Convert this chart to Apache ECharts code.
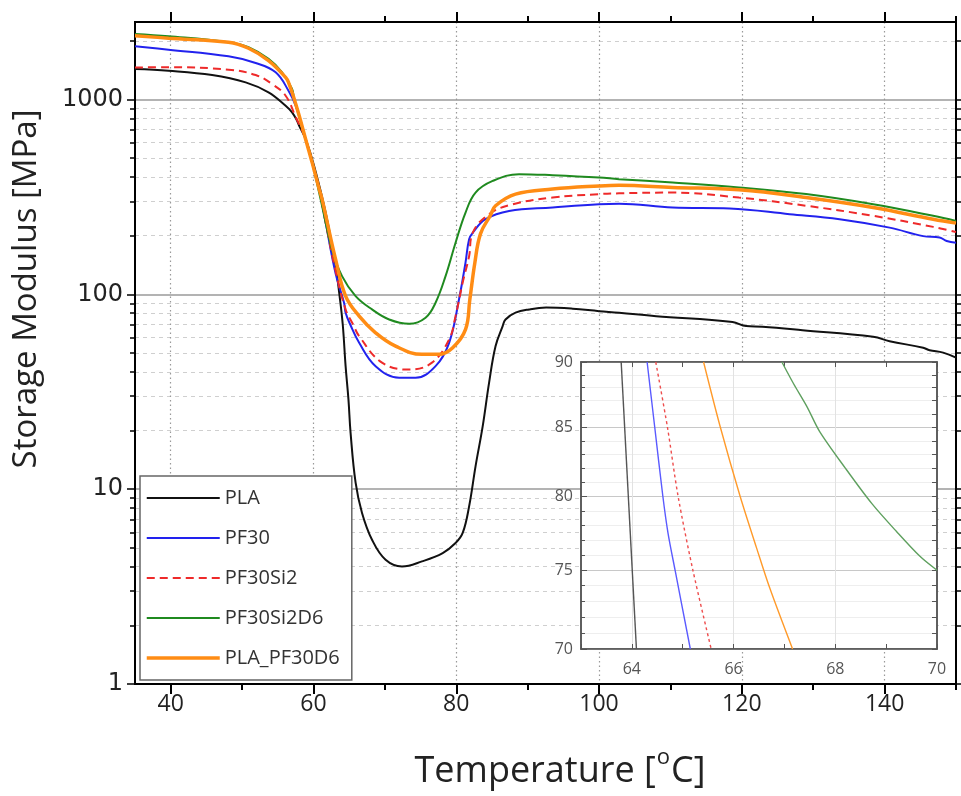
<!DOCTYPE html>
<html><head><meta charset="utf-8">
<script src="https://cdn.jsdelivr.net/npm/echarts@6/dist/echarts.min.js"></script>
<style>html,body{margin:0;padding:0;background:#fff}#c{width:961px;height:796px}</style>
</head><body><div id="c"></div>
<script>
// ---------- data (temperature °C, storage modulus MPa) ----------
const seriesNames = ['PLA', 'PF30', 'PF30Si2', 'PF30Si2D6', 'PLA_PF30D6'];

const pla = [[35,1435],[39.7,1406],[45.8,1336],[50.5,1225],[53.7,1089],[56.1,929],[57.0,859],[57.7,778],[58.0,733],[58.9,626],[60.1,455],[61.7,263],[63.1,140],[63.6,102],[64.1,70],[64.5,42.8],[64.9,28.8],[65.2,19.4],[65.9,10.8],[66.8,7.55],[68.2,5.5],[70.1,4.34],[72.4,4.01],[75.2,4.26],[78.1,4.7],[79.9,5.29],[80.9,5.96],[81.8,8.16],[82.7,13.1],[83.7,21.0],[84.6,35.2],[85.5,54.2],[86.5,68.7],[86.9,74.3],[88.3,80.5],[90.2,83.7],[92.6,85.5],[96.3,84.4],[100,82.0],[102.8,80.5],[108,77.3],[118.7,72.1],[120.6,68.7],[122.9,68.2],[128.5,65.5],[138.4,60.6],[140.7,57.5],[145.4,53.2],[146.3,51.7],[148.2,50.2],[150,47.3]];

const pf30 = [[35,1877],[39.7,1803],[48.1,1667],[51.9,1541],[54.7,1380],[56.5,1110],[57.5,930],[58.9,626],[59.8,477],[60.8,347],[61.7,234],[63.1,128],[64.3,90],[64.5,80.5],[65.15,70],[66.4,56.4],[68.7,42.8],[72.0,37.3],[74.3,37.3],[77.1,42.8],[79.0,56.4],[80.4,95],[81.3,146],[81.8,192],[82.3,207],[84.1,243],[87.4,268],[93.5,279],[100,290],[102.8,292],[110.3,279],[118.3,276],[126.7,258],[133.7,243],[140.7,220],[145.4,199],[147.7,196],[148.7,188],[150,184]];

const pf30si2 = [[35,1460],[39.7,1465],[48.1,1423],[51.9,1336],[54.2,1201],[56.1,1046],[57.5,815],[58.9,626],[59.8,477],[60.8,347],[61.7,234],[63.1,132],[64.5,83.7],[65.55,70],[66.4,61.0],[69.6,44.6],[73.4,41.1],[76.6,44.6],[79.0,58.7],[79.9,77.3],[80.9,115],[81.8,157],[82.3,207],[84.6,258],[87.9,290],[93.5,314],[100,327],[102.8,330],[110.3,333],[119.6,314],[129,285],[138.4,253],[146.8,222],[150,209]];

const pf30si2d6 = [[35,2172],[39.7,2113],[48.1,1968],[50.9,1855],[53.7,1616],[55.6,1380],[57.0,1132],[57.3,1007],[58.0,825],[58.9,626],[59.8,477],[61.0,308],[62.6,170],[64.0,124],[65.9,98],[68.2,83.7],[70.6,74.3],[73.4,70.6],[75.7,75.9],[77.1,90.6],[78.5,124],[79.9,184],[81.3,263],[82.7,333],[85.1,382],[88.8,414],[93.5,409],[100,398],[102.8,390],[110.3,375],[119.6,354],[129,327],[138.4,290],[146.8,253],[150,238]];

const plaPf30d6 = [[35,2128],[39.7,2065],[48.1,1968],[50.9,1833],[53.7,1584],[56.1,1300],[56.5,1225],[57.3,1007],[58.0,825],[58.9,626],[59.8,477],[60.8,347],[61.2,308],[63.1,151],[64.5,98],[66.4,77.3],[68.7,63.5],[71.5,54.2],[75.2,49.2],[77.6,49.2],[79.5,53.2],[81.3,66.1],[81.9,94],[82.6,145],[83.4,205],[84.8,255],[85.5,285],[88.3,327],[93.5,347],[100,360],[102.8,363],[110.3,354],[119.6,344],[129,314],[138.4,279],[146.8,243],[150,232]];

// inset (zoom 63–70 °C, 70–90 MPa)
const insetPla = [[63.79,90],[64.09,70]];
const insetPf30 = [[64.30,90],[64.45,85],[64.61,80],[64.71,77.5],[64.85,75],[65.15,70]];
const insetPf30si2 = [[64.47,90],[64.70,85],[64.91,80],[65.2,75],[65.56,70]];
const insetPf30si2d6 = [[66.95,90],[67.18,88.3],[67.45,86.5],[67.69,84.7],[68.2,82.0],[68.72,79.5],[69.2,77.6],[69.67,75.9],[70,75.0]];
const insetPlaPf30d6 = [[65.41,90],[65.74,85.0],[66.13,80],[66.45,76.5],[66.71,73.85],[67.16,70]];

// ticks
const xMajorTicks = [40,60,80,100,120,140];
const xMinorTicks = [50,70,90,110,130,150];
const yMajorTicks = [1,10,100,1000];
const yMinorTicks = [2,3,4,5,6,7,8,9,20,30,40,50,60,70,80,90,200,300,400,500,600,700,800,900,2000];
const insetXLabels = [64,66,68,70];
const insetXTicks = [63,64,65,66,67,68,69,70];
const insetYLabels = [70,75,80,85,90];
const insetYMinor = [71,72,73,74,76,77,78,79,81,82,83,84,86,87,88,89];
const yMax = 2500;

// ---------- helpers ----------
const lg = v => Math.log10(v);
const toLog = arr => arr.map(p => [p[0], lg(p[1])]);
const FONT = 'Open Sans';

const colors = ['#111111','#2222ee','#ee2a2a','#1f8a1f','#ff8c14'];
const insetColors = ['#555555','#5a5aff','#ee4d4d','#5fa05f','#ff9a2a'];
const mainData = [pla, pf30, pf30si2, pf30si2d6, plaPf30d6];
const insetData = [insetPla, insetPf30, insetPf30si2, insetPf30si2d6, insetPlaPf30d6];

const series = [];
mainData.forEach((d, i) => {
  series.push({
    name: seriesNames[i], type: 'line', data: toLog(d),
    xAxisIndex: 0, yAxisIndex: 0, symbol: 'none', smooth: 0.4,
    z: 2 + i * 0.01,
    lineStyle: {color: colors[i], width: i === 4 ? 3.5 : 2, type: i === 2 ? [8, 5] : 'solid'},
    itemStyle: {color: colors[i]}
  });
});
insetData.forEach((d, i) => {
  series.push({
    name: seriesNames[i] + ' (inset)', type: 'line', data: toLog(d),
    xAxisIndex: 4, yAxisIndex: 4, symbol: 'none', smooth: 0.3, z: 12,
    lineStyle: {color: insetColors[i], width: 1.4, type: i === 2 ? [3, 3] : 'solid'},
    itemStyle: {color: insetColors[i]}, silent: true
  });
});

const axisLine = {show: true, onZero: false, lineStyle: {color: '#000', width: 2}};
const mainX = (pos, ticks, len, extra) => Object.assign({
  type: 'value', gridIndex: 0, position: pos, min: 35, max: 150,
  axisLine: axisLine,
  axisTick: {show: true, length: len, customValues: ticks, lineStyle: {color: '#000', width: 2}},
  axisLabel: {show: false},
  splitLine: {show: false}
}, extra || {});
const mainY = (pos, ticks, len, extra) => Object.assign({
  type: 'value', gridIndex: 0, position: pos, min: 0, max: lg(yMax),
  axisLine: axisLine,
  axisTick: {show: true, length: len, customValues: ticks.map(lg), lineStyle: {color: '#000', width: 1.5}},
  axisLabel: {show: false},
  splitLine: {show: false}
}, extra || {});

const insetAxisLine = {show: true, onZero: false, lineStyle: {color: '#555', width: 1.5}};

const option = {
  animation: false,
  backgroundColor: '#fff',
  textStyle: {fontFamily: FONT},
  grid: [
    {left: 135, right: 5, top: 22, bottom: 112, show: false},
    {left: 581, top: 362, width: 356, height: 287, show: true, backgroundColor: '#fff',
     borderColor: '#555', borderWidth: 1.5, z: 10}
  ],
  legend: {
    data: seriesNames, orient: 'vertical', left: 140, top: 476,
    padding: [12, 12, 12, 5], itemWidth: 73, itemHeight: 14, itemGap: 20,
    backgroundColor: '#fff', borderColor: '#666', borderWidth: 1.5,
    itemStyle: {opacity: 0, borderWidth: 0},
    lineStyle: {width: 'inherit'},
    textStyle: {fontSize: 20, color: '#333', fontFamily: FONT},
    z: 6
  },
  xAxis: [
    mainX('bottom', xMajorTicks, 10, {
      axisLabel: {show: true, customValues: xMajorTicks, fontSize: 23, color: '#222', margin: 9, fontFamily: FONT},
      splitLine: {show: true, lineStyle: {color: '#999', width: 1.2, type: [1.5, 3]}}
    }),
    mainX('bottom', xMinorTicks, 6),
    mainX('top', xMajorTicks, 10),
    mainX('top', xMinorTicks, 6),
    {
      type: 'value', gridIndex: 1, position: 'bottom', min: 63, max: 70, z: 11,
      axisLine: insetAxisLine,
      axisTick: {show: true, inside: true, length: 5, customValues: insetXTicks, lineStyle: {color: '#555'}},
      axisLabel: {show: true, customValues: insetXLabels, fontSize: 16, color: '#555', margin: 12, fontFamily: FONT},
      splitLine: {show: false}
    },
    {
      type: 'value', gridIndex: 1, position: 'top', min: 63, max: 70, z: 11,
      axisLine: insetAxisLine,
      axisTick: {show: true, inside: true, length: 5, customValues: insetXTicks, lineStyle: {color: '#555'}},
      axisLabel: {show: false}, splitLine: {show: false}
    },
    {
      type: 'value', gridIndex: 1, position: 'bottom', min: 63, max: 70, z: 11,
      axisLine: {show: false},
      axisTick: {show: false, customValues: [64,66,68]},
      axisLabel: {show: false},
      splitLine: {show: true, lineStyle: {color: '#e2e2e2', width: 1}}
    }
  ],
  yAxis: [
    mainY('left', yMajorTicks, 8, {
      axisLabel: {show: true, customValues: yMajorTicks.map(lg), fontSize: 24, color: '#222', margin: 12, fontFamily: 'DejaVu Sans',
        formatter: v => String(Math.round(Math.pow(10, v)))},
      splitLine: {show: true, lineStyle: {color: '#9a9a9a', width: 1.5}}
    }),
    mainY('left', yMinorTicks, 5, {
      splitLine: {show: true, lineStyle: {color: '#cfcfcf', width: 1, type: [4, 4]}}
    }),
    mainY('right', yMajorTicks, 8),
    mainY('right', yMinorTicks, 5),
    {
      type: 'value', gridIndex: 1, position: 'left', min: lg(70), max: lg(90), z: 11,
      axisLine: insetAxisLine,
      axisTick: {show: true, inside: true, length: 6, customValues: insetYLabels.map(lg), lineStyle: {color: '#555'}},
      axisLabel: {show: true, customValues: insetYLabels.map(lg), fontSize: 16, color: '#555', margin: 8, fontFamily: FONT,
        formatter: v => String(Math.round(Math.pow(10, v)))},
      splitLine: {show: true, lineStyle: {color: '#c8c8c8', width: 1.2}}
    },
    {
      type: 'value', gridIndex: 1, position: 'left', min: lg(70), max: lg(90), z: 10.5,
      axisLine: {show: false},
      axisTick: {show: true, inside: true, length: 4, customValues: insetYMinor.map(lg), lineStyle: {color: '#555'}},
      axisLabel: {show: false},
      splitLine: {show: true, lineStyle: {color: '#eeeeee', width: 1}}
    },
    {
      type: 'value', gridIndex: 1, position: 'right', min: lg(70), max: lg(90), z: 11,
      axisLine: insetAxisLine,
      axisTick: {show: true, inside: true, length: 5, customValues: insetYLabels.concat(insetYMinor).map(lg), lineStyle: {color: '#555'}},
      axisLabel: {show: false}, splitLine: {show: false}
    }
  ],
  graphic: [
    {type: 'text', x: 27, y: 289, rotation: Math.PI / 2, z: 20,
     style: {text: 'Storage Modulus [MPa]', fill: '#222', font: '33px "Open Sans"', textAlign: 'center', textVerticalAlign: 'middle'}},
    {type: 'text', x: 560, y: 772, z: 20,
     style: {text: '{a|Temperature [}{s|o}{a|C]}', textAlign: 'center', textVerticalAlign: 'middle',
       rich: {a: {fontSize: 36, fontFamily: FONT, fill: '#222', color: '#222'},
              s: {fontSize: 22, fontFamily: FONT, fill: '#222', color: '#222', padding: [0, 1, 28, 1]}}}}
  ],
  series: series
};

const chart = echarts.init(document.getElementById('c'), null, {renderer: 'canvas'});
chart.setOption(option);
</script></body></html>
